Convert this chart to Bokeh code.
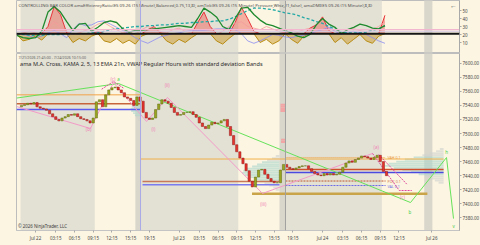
import numpy as np
from bokeh.plotting import figure
from bokeh.layouts import column
from bokeh.models import Range1d, FixedTicker, NumeralTickFormatter, Label, Span
from bokeh.embed import file_html
from bokeh.resources import INLINE
from bokeh.core.properties import value

FONT = "Noto Sans"

# ---------------- DATA ----------------
# time unit: trading hours since Jul 22 00:00 (the daily break hour is skipped)
bar_first_hour = -2.25
bar_interval_hours = 0.5
bar_first_open = 7538
bar_close = [
    7540, 7541, 7543, 7542, 7544,
    7538, 7536, 7535, 7533, 7528, 7524, 7520, 7518, 7522, 7524,
    7527, 7526, 7528, 7524, 7521, 7520, 7518, 7515, 7522, 7545,
    7548, 7538, 7555, 7562, 7565, 7566, 7562, 7558, 7552, 7550,
    7547, 7540, 7552, 7546, 7530, 7522, 7520, 7522, 7534, 7542,
    7548, 7546, 7543, 7537, 7530, 7526, 7527, 7530, 7530, 7531,
    7527, 7523, 7515, 7510, 7507, 7512, 7516, 7514, 7515, 7518,
    7520, 7510, 7497, 7484, 7474, 7465, 7457, 7447, 7432, 7424,
    7438, 7448, 7449, 7442, 7436, 7432, 7430, 7430, 7448, 7456,
    7452, 7450, 7449, 7451, 7453, 7454, 7454, 7450, 7446, 7443,
    7441, 7440, 7443, 7441, 7443, 7441, 7442, 7445, 7452, 7458,
    7461, 7459, 7463, 7465, 7468, 7467, 7465, 7463, 7466, 7469,
    7460, 7446, 7440,
]

ind_hours = list(range(-3, 57))
osc_values = [20, 12, 14, 18, 13, 30, 55, 45, 22, 10, 15, 12, 18, 24, 12, 10, 15, 9, 13, 8,
              18, 26, 30, 22, 12, 8, 14, 10, 16, 35, 48, 30, 12, 8, 15, 35, 54, 40, 24, 10,
              14, 8, 12, 22, 14, 9, 18, 28, 32, 42, 25, 10, 16, 8, 14, 20, 12, 9, 18, 44]
green_values = [19, 16, 15, 16, 24, 48, 55, 48, 36, 25, 33, 34, 24, 29, 35, 37, 35, 27, 23, 25,
                25, 26, 27, 28, 29, 30, 31, 30, 29, 40, 53, 48, 42, 30, 26, 40, 53, 54, 45, 38,
                33, 31, 28, 25, 22, 18, 16, 20, 32, 40, 33, 29, 21, 26, 29, 33, 31, 28, 27, 31]
teal_values = [21, 20, 19, 19, 19, 20, 20, 20, 21, 21, 21, 21, 22, 22, 24, 26, 27, 28, 29, 30,
               30, 31, 31, 32, 32, 33, 34, 34, 35, 35, 36, 36, 37, 37, 39, 42, 46, 50, 53, 53,
               52, 51, 49, 47, 46, 44, 41, 39, 36, 34, 30, 27, 23, 22, 22, 22, 23, 25, 27, 31]
lavender_values = [21, 20, 18, 16, 18, 22, 25, 21, 16, 26, 34, 31, 32, 36, 37, 33, 29, 25, 21, 16,
                   12, 9, 13, 17, 19, 21, 22, 24, 25, 25, 25, 26, 27, 27, 28, 26, 21, 12, 9, 12,
                   16, 20, 19, 17, 16, 18, 19, 21, 24, 26, 29, 24, 20, 23, 24, 22, 20, 16, 12, 9]
salmon_values = [20, 22, 24, 22, 20, 28, 36, 30, 24, 20, 22, 25, 28, 33, 35, 30, 26, 22, 24, 20,
                 26, 30, 27, 24, 22, 26, 28, 24, 22, 30, 33, 26, 20, 24, 30, 34, 36, 30, 28, 26,
                 30, 27, 24, 22, 25, 23, 26, 28, 24, 30, 28, 24, 22, 26, 27, 25, 23, 26, 30, 36]
osc_threshold = 21
upper_guides = [26, 24]

# zigzag swing points (hour, price)
pink_zz_h = [-3.04, 8.81, 12.50, 17.79, 21.15, 36.38, 54.01]
pink_zz_p = [7538.4, 7507.1, 7572.5, 7517.1, 7551.2, 7414.7, 7471.6]
pink_proj1_h = [54.01, 58.3, 60.3]
pink_proj1_p = [7471.6, 7418.9, 7418.9]
pink_proj2_h = [55.0, 59.5]
pink_proj2_p = [7470.0, 7428.0]
pink_peak_h = [10.6, 12.5, 14.2]
pink_peak_p = [7563.0, 7574.0, 7564.0]
green_zz_h = [-3.04, 13.30, 60.10, 65.87, 66.99]
green_zz_p = [7550.4, 7571.1, 7401.8, 7465.8, 7379.0]
pink_labels = ["(c)", "(b)", "(i)", "(ii)", "(iii)", "(a)", "(c)"]
pink_label_h = [12.4, 8.5, 18.9, 21.1, 36.5, 54.6, 58.8]
pink_label_p = [7577, 7506, 7507, 7569, 7400, 7481, 7409]
green_labels = ["a", "b", "h", "v"]
green_label_h = [13.3, 60.0, 65.9, 67.0]
green_label_p = [7577, 7388, 7474, 7369]

# horizontal levels (start hour, end hour, price)
level_h0 = [-3.04, -3.04, -3.04, 16.83, 17.15, 17.15, 40.06, 40.06, 34.7, 40.06, 40.06, 40.06]
level_h1 = [16.83, 16.83, 16.83, 65.4, 39.1, 39.1, 65.4, 65.4, 62.8, 56.1, 56.1, 56.1]
level_price = [7555.0, 7542.2, 7534.1, 7463.7, 7431.7, 7427.0, 7448.8, 7444.5, 7414.2, 7465.9, 7432.4, 7426.0]
va_label_text = ["VAH 0.1", "POC 0.1", "VAL 0.1"]
va_label_price = [7466.5, 7432.0, 7425.0]

# volume profiles: price levels and bar lengths (hours)
profA_price = [7520, 7523, 7526, 7529, 7532, 7535, 7538, 7541, 7544, 7547, 7550, 7553, 7556]
profA_len = [0.4, 0.6, 0.9, 1.2, 1.5, 1.6, 1.4, 1.2, 1.0, 0.8, 0.6, 0.4, 0.3]
profB_price = [7420, 7423, 7426, 7429, 7432, 7435, 7438, 7441, 7444, 7447, 7450, 7453, 7456, 7459, 7462, 7465, 7468]
profB_len = [0.6, 1.0, 1.6, 2.4, 3.2, 4.0, 4.8, 5.6, 6.0, 5.8, 5.2, 4.4, 3.6, 2.8, 2.0, 1.2, 0.6]
profC_price = [7430, 7433, 7436, 7439, 7442, 7445, 7448, 7451, 7454, 7457, 7460, 7463, 7466, 7469, 7472, 7475, 7478]
profC_len = [0.8, 1.4, 2.2, 3.0, 4.0, 5.2, 6.6, 8.0, 9.4, 8.8, 7.6, 6.2, 4.8, 3.4, 2.2, 1.2, 0.6]
profD_price = [7532, 7535, 7538, 7541, 7488, 7491]
profD_len = [0.8, 0.8, 0.8, 0.8, 0.7, 0.7]

# sessions
night_sessions = [(-2.4, 9.5), (16.83, 32.5), (40.06, 55.5)]
break_hours = [(16.0, 16.83), (39.1, 40.06), (62.3, 63.6)]

xtick_hours = [0, 3.25, 6.25, 9.25, 12.25, 15.25, 18.25, 23, 26.25, 29.25, 32.25, 35.25,
               38.25, 41.25, 46, 49.25, 52.25, 55.25, 58.25, 63.5]
xtick_labels = ["Jul 22", "03:15", "06:15", "09:15", "12:15", "15:15", "19:15", "Jul 23",
                "03:15", "06:15", "09:15", "12:15", "15:15", "19:15", "Jul 24", "03:15",
                "06:15", "09:15", "12:15", "Jul 26"]
price_ticks = [7380, 7400, 7420, 7440, 7460, 7480, 7500, 7520, 7540, 7560, 7580, 7600]
ind_ticks = [10, 20, 30, 40, 50]

# ---------------- LAYOUT helpers ----------------
X0_PX, PX_PER_H = 35.0, 6.24
Y7600_PX, PX_PER_PT = 62.7, 0.703


def px2h(x):
    return (x - X0_PX) / PX_PER_H


def py2p(y):
    return 7600 - (y - Y7600_PX) / PX_PER_PT


CREAM = "#fcf5e2"
GREY = "#e3e0d4"
GREY_DK = "#d9d6cb"
AXIS_C = "#a9a9a9"
LBL_C = "#454545"

xr = Range1d(px2h(16), px2h(459))

# ---------------- TOP PANEL ----------------
top = figure(frame_width=443, frame_height=52, x_range=xr, y_range=Range1d(-2.5, 62.5),
             output_backend="svg", toolbar_location=None, y_axis_location="right",
             x_axis_location=None, min_border_left=16, min_border_right=21,
             min_border_top=0, min_border_bottom=1)
main = figure(frame_width=443, frame_height=177, x_range=xr,
              y_range=Range1d(py2p(230), py2p(53)),
              output_backend="svg", toolbar_location=None, y_axis_location="right",
              min_border_left=16, min_border_right=21, min_border_top=0, min_border_bottom=15)

for f, (lo, hi) in ((top, (-10, 80)), (main, (7300, 7700))):
    f.background_fill_color = CREAM
    f.border_fill_color = CREAM
    f.outline_line_color = "#bdbdbd"
    f.grid.grid_line_color = None
    f.quad(left=[a for a, b in night_sessions], right=[b for a, b in night_sessions],
           bottom=lo, top=hi, fill_color=GREY, line_color=None)
    f.quad(left=[a for a, b in break_hours], right=[b for a, b in break_hours],
           bottom=lo, top=hi, fill_color=GREY_DK, line_color=None)
    f.add_layout(Span(location=16.83, dimension="height", line_color="#a9a9e6", line_width=1))
    f.add_layout(Span(location=40.06, dimension="height", line_color="#a0a0a0", line_width=1))
    ax = f.yaxis[0]
    ax.axis_line_color = AXIS_C
    ax.major_tick_line_color = AXIS_C
    ax.major_tick_out = 2
    ax.major_tick_in = 0
    ax.minor_tick_line_color = None
    ax.major_label_standoff = 1
    ax.major_label_text_font_size = "4.5px"
    ax.major_label_text_color = LBL_C
    ax.major_label_text_font = FONT

# indicator panel
osc = np.array(osc_values, dtype=float)
osc_hi = np.maximum(osc, osc_threshold)
osc_lo = np.minimum(osc, osc_threshold)
top.varea(x=ind_hours, y1=osc_threshold, y2=osc_hi, fill_color="#ec5a52", fill_alpha=0.45)
top.varea(x=ind_hours, y1=osc_lo, y2=osc_threshold, fill_color="#c99a2a", fill_alpha=0.5)
top.line(ind_hours, osc_lo, line_color="#b88c14", line_width=1)
top.line(ind_hours, osc_hi, line_color="#e8343a", line_width=1)
top.line(ind_hours, salmon_values, line_color="#f59a9a", line_width=0.8)
top.line(ind_hours, lavender_values, line_color="#8c8cf2", line_width=0.8)
top.line(ind_hours, teal_values, line_color="#23aaa6", line_width=1.3, line_dash="3 2")
top.line(ind_hours, green_values, line_color="#1f8a2e", line_width=1.3)
top.add_layout(Span(location=upper_guides[0], dimension="width", line_color="#f2b6cf", line_width=1.3))
top.add_layout(Span(location=upper_guides[1], dimension="width", line_color="#d6cbe6", line_width=1))
top.add_layout(Span(location=osc_threshold, dimension="width", line_color="#151515", line_width=2))
top.yaxis[0].ticker = FixedTicker(ticks=ind_ticks)
top.text(x=[px2h(18)], y=[20 + (34 - 4.5) / 0.8],
         text=["CONTROLLING BAR COLOR amaEfficiencyRatio(ES 09-26 (15 Minute),Balanced,0.75,13,8), "
               "amTick(ES 09-26 (15 Minute),Pressure,Whiz,21,false), amaDMI(ES 09-26 (15 Minute),8,8)"],
         text_font=value(FONT), text_font_size="4.3px", text_color="#505050",
         text_baseline="middle", text_align="left")
top.text(x=[px2h(453)], y=[20 + (34 - 5) / 0.8], text=["\u2190"], text_font=value(FONT),
         text_font_size="7px", text_color="#707070", text_baseline="middle", text_align="center")

# ---------------- MAIN PANEL ----------------
# volume profiles
def profile(edge, prices, lengths, va_lo, va_hi):
    cols = ["#a9d6cc" if va_lo <= p <= va_hi else "#cfd2ce" for p in prices]
    main.hbar(y=prices, left=[edge - L for L in lengths], right=edge, height=2.7,
              fill_color=cols, fill_alpha=0.6, line_color=None)


profile(16.83, profA_price, profA_len, 7526, 7547)
profile(39.1, profB_price, profB_len, 7430, 7460)
profile(65.4, profC_price, profC_len, 7440, 7466)
main.hbar(y=profD_price, left=[40.06 - L for L in profD_len], right=40.06, height=2.8,
          fill_color="#f4a0a0", fill_alpha=0.9, line_color=None)

# horizontal levels
level_color = ["#f2a54a", "#c8643c", "#5c5cf0", "#f2b04a", "#c87858", "#7a7af0",
               "#d0502c", "#4a4ae0", "#c9a448", "#f0a040", "#c05a30", "#6a6ae8"]
level_width = [1, 1.5, 1.5, 1, 1.5, 1.5, 1.5, 1.5, 2.5, 1, 1, 1]
level_dash = ["solid"] * 9 + ["1 1", "2 1", "2 1"]
for h0, h1, pr, c, w, d in zip(level_h0, level_h1, level_price, level_color, level_width, level_dash):
    main.segment(x0=[h0], y0=[pr], x1=[h1], y1=[pr], line_color=c, line_width=w, line_dash=d)
main.text(x=[px2h(387)] * 3, y=va_label_price, text=va_label_text, text_font=value(FONT),
          text_font_size="3.6px", text_color=["#e89a40", "#d07a50", "#7070e0"],
          text_baseline="middle", text_align="left")

# zigzags
main.line(green_zz_h, green_zz_p, line_color="#66e25a", line_width=1)
main.line(pink_zz_h, pink_zz_p, line_color="#f39ac8", line_width=1)
main.line(pink_proj1_h, pink_proj1_p, line_color="#e0449c", line_width=1, line_dash="2 1")
main.line(pink_proj2_h, pink_proj2_p, line_color="#e0449c", line_width=1, line_dash="2 1")
main.line(pink_peak_h, pink_peak_p, line_color="#e0449c", line_width=1, line_dash="2 1")

# candles
closes = np.array(bar_close, dtype=float)
opens = np.concatenate([[bar_first_open], closes[:-1]])
hours = bar_first_hour + bar_interval_hours * np.arange(len(closes))
up = closes >= opens
main.vbar(x=hours, width=0.36, top=np.maximum(opens, closes), bottom=np.minimum(opens, closes),
          fill_color=np.where(up, "#9aa51f", "#e8322c").tolist(),
          line_color=np.where(up, "#5d6a10", "#8a1a18").tolist(), line_width=0.5)

# wave labels
main.text(x=pink_label_h, y=pink_label_p, text=pink_labels, text_font=value(FONT),
          text_font_size="4.5px", text_color="#f080b4", text_align="center", text_baseline="middle")
main.text(x=green_label_h, y=green_label_p, text=green_labels, text_font=value(FONT),
          text_font_size="4.5px", text_color="#44cc44", text_align="center", text_baseline="middle")

# titles
main.text(x=[px2h(18)], y=[py2p(57.3)], text=["7/21/2026 21:45:00 - 7/24/2026 10:15:00"],
          text_font=value(FONT), text_font_size="3.6px", text_color="#606060",
          text_baseline="middle", text_align="left")
main.text(x=[px2h(19.5)], y=[py2p(63.5)],
          text=["ama M.A. Cross,  KAMA  2, 5, 13 EMA 21n, VWAP Regular Hours with standard deviation Bands"],
          text_font=value(FONT), text_font_size="5.6px", text_color="#2c2c2c",
          text_baseline="middle", text_align="left")
main.text(x=[px2h(17.5)], y=[py2p(225.5)], text=["\u00a9 2026 NinjaTrader, LLC"],
          text_font=value(FONT), text_font_size="4.4px", text_color="#404040",
          text_baseline="middle", text_align="left")

main.add_layout(Label(x=px2h(452), y=py2p(240.5), text="NINJATRADER", text_font=FONT,
                      text_font_size="3.8px", text_color="#e83a2a", text_font_style="bold",
                      text_baseline="middle", text_align="left"))
main.add_layout(Label(x=px2h(1), y=py2p(242), text="\u00a9 2026 NinjaTrader", text_font=FONT,
                      text_font_size="2.8px", text_color="#8a8a8a",
                      text_baseline="middle", text_align="left"))

# axes
main.yaxis[0].ticker = FixedTicker(ticks=price_ticks)
main.yaxis[0].formatter = NumeralTickFormatter(format="0.00")
xa = main.xaxis[0]
xa.ticker = FixedTicker(ticks=xtick_hours)
xa.major_label_overrides = {h: l for h, l in zip(xtick_hours, xtick_labels)}
xa.axis_line_color = "#c4c4c4"
xa.major_tick_line_color = AXIS_C
xa.major_tick_out = 2
xa.major_tick_in = 0
xa.minor_tick_line_color = None
xa.major_label_standoff = 2
xa.major_label_text_font_size = "4.5px"
xa.major_label_text_color = LBL_C
xa.major_label_text_font = FONT

layout = column(top, main, spacing=0)
layout.styles = {"background-color": CREAM}
open("out.html", "w").write(file_html(layout, INLINE))
